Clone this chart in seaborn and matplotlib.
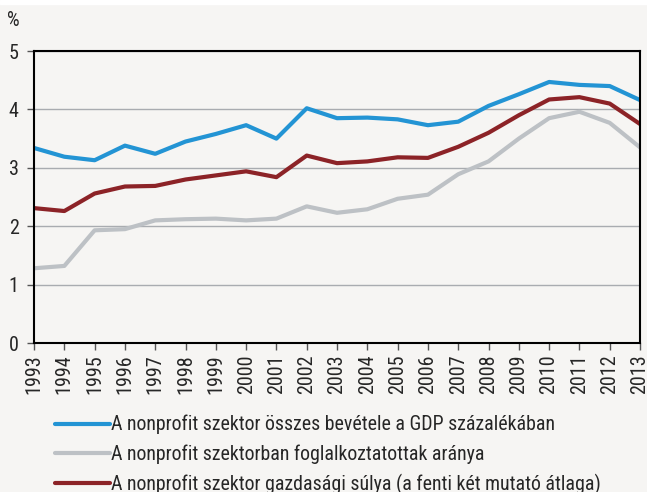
import pandas as pd
import matplotlib.pyplot as plt
import seaborn as sns
from matplotlib.patches import Rectangle

years = list(range(1993, 2014))

revenue_gdp = [3.34, 3.19, 3.13, 3.38, 3.24, 3.45, 3.58, 3.73, 3.50, 4.02, 3.85,
               3.86, 3.83, 3.73, 3.79, 4.06, 4.26, 4.47, 4.42, 4.40, 4.16]
employment = [1.28, 1.32, 1.93, 1.95, 2.10, 2.12, 2.13, 2.10, 2.13, 2.34, 2.23,
              2.29, 2.47, 2.54, 2.89, 3.11, 3.50, 3.85, 3.96, 3.77, 3.35]
economic_weight = [2.31, 2.26, 2.56, 2.68, 2.69, 2.80, 2.87, 2.94, 2.84, 3.21, 3.08,
                   3.11, 3.18, 3.17, 3.36, 3.60, 3.90, 4.17, 4.21, 4.10, 3.75]

series_names = [
    "A nonprofit szektor összes bevétele a GDP százalékában",
    "A nonprofit szektorban foglalkoztatottak aránya",
    "A nonprofit szektor gazdasági súlya (a fenti két mutató átlaga)",
]
colors = ["#2394D4", "#BDC1C5", "#8C2327"]

df = pd.DataFrame({
    "Év": years * 3,
    "Érték": revenue_gdp + employment + economic_weight,
    "Sorozat": [series_names[0]] * 21 + [series_names[1]] * 21 + [series_names[2]] * 21,
})

## -------------------- Plotting -------------------- ##

sns.set_style("ticks")
plt.rcParams["font.family"] = ["Roboto Condensed", "Liberation Sans", "DejaVu Sans"]

bg = "#F6F5F3"
fig = plt.figure(figsize=(6.47, 4.92), dpi=100, facecolor=bg)
ax = fig.add_axes([0.0526, 0.3028, 0.9366, 0.5935])
ax.set_facecolor(bg)
fig.add_artist(Rectangle((0, 1 - 4 / 492), 1, 4 / 492, color="white",
                         transform=fig.transFigure, zorder=0))

sns.lineplot(
    data=df,
    x="Év",
    y="Érték",
    hue="Sorozat",
    hue_order=series_names,
    palette=colors,
    linewidth=3.0,
    ax=ax,
    legend=False,
)

ax.set_xlim(1993, 2013)
ax.set_ylim(0, 5)
ax.set_xticks(years)
ax.set_xticklabels([str(y) for y in years], rotation=90, fontsize=14.5)
ax.set_yticks(range(0, 6))
ax.tick_params(axis="y", labelsize=14.5, length=5, width=1, color="#555555", pad=6)
ax.tick_params(axis="x", length=5, width=1, color="#555555", pad=3)
ax.yaxis.grid(True, color="#A9ACB0", linewidth=1)
ax.set_axisbelow(True)
ax.set_xlabel("")
ax.set_ylabel("")
for side in ["left", "right", "top", "bottom"]:
    ax.spines[side].set_visible(True)
    ax.spines[side].set_color("black")
    ax.spines[side].set_linewidth(1.5)

fig.text(7 / 647, 1 - 21 / 492, "%", fontsize=14.5, ha="left", va="center")

handles = [plt.Line2D([], [], color=c, linewidth=3.0) for c in colors]
fig.legend(
    handles,
    series_names,
    loc="upper left",
    bbox_to_anchor=(55 / 647, 1 - 415 / 492),
    frameon=False,
    fontsize=14.3,
    handlelength=2.77,
    handletextpad=0.05,
    labelspacing=0.5,
    borderaxespad=0,
    borderpad=0,
)

plt.savefig("out.png", dpi=100, facecolor=bg)
